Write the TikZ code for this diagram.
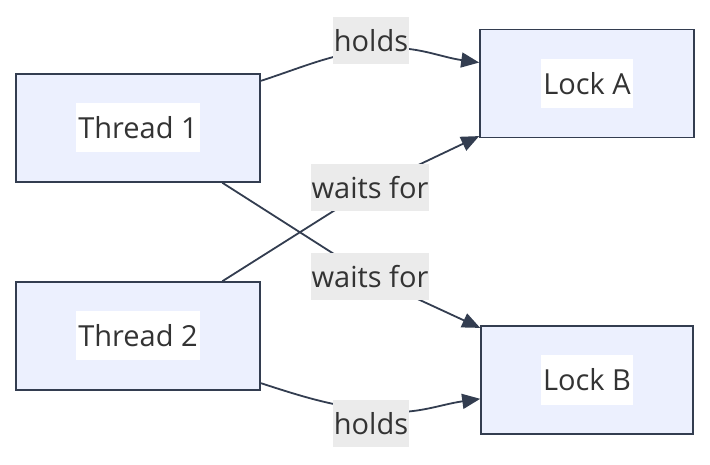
\documentclass[tikz,border=0pt]{standalone}
\usepackage{fontspec}
\setmainfont{Open Sans}
\usetikzlibrary{calc, arrows.meta, backgrounds}

\definecolor{edgecol}{RGB}{51,61,80}
\definecolor{boxfill}{RGB}{236,240,254}
\definecolor{labelfill}{RGB}{235,235,235}
\definecolor{textcol}{RGB}{51,51,51}

\begin{document}
\begin{tikzpicture}[x=1pt, y=1pt,
    box/.style={draw=edgecol, line width=1.6pt, fill=boxfill, minimum width=#1, minimum height=108pt, inner sep=0pt},
    txt/.style={fill=white, text=textcol, inner xsep=2pt, inner ysep=0pt, minimum height=49pt, font=\fontsize{29}{35}\selectfont},
    lbl/.style={fill=labelfill, text=textcol, inner xsep=1pt, inner ysep=0pt, minimum height=47pt, font=\fontsize{29}{35}\selectfont},
    arr/.style={draw=edgecol, line width=1.8pt, -{Triangle[length=18pt, width=15pt]}}]
        \useasboundingbox (0,0) rectangle (710,464);

        \node[box=244pt] (t1) at (138,336) {};
        \node[box=244pt] (t2) at (138,128) {};
        \node[box=214pt] (la) at (587,380.5) {};
        \node[box=212pt] (lb) at (587,84) {};

        \node[txt] (t1txt) at (t1) {Thread 1};
        \node[txt] (t2txt) at (t2) {Thread 2};
        \node[txt] (latxt) at (la) {Lock A};
        \node[txt] (lbtxt) at (lb) {Lock B};

        \node[lbl] (h1) at (371,423.5) {holds};
        \node[lbl] (w1) at (370,276) {waits for};
        \node[lbl] (w2) at (370,187) {waits for};
        \node[lbl] (h2) at (371,40.5) {holds};

        \coordinate (h1p) at ($(h1.center)+(0,-9)$);
        \coordinate (h2p) at ($(h2.center)+(0,13)$);

        \begin{pgfonlayer}{background}
            \draw[arr] (t1.21) to[out=18, in=188] (h1p) to[out=8, in=172] (la.169);
            \draw[arr] (t1.-33) -- (w2.center) -- (lb.154);
            \draw[arr] (t2.33) -- (w1.center) -- (la.206);
            \draw[arr] (t2.-21) to[out=-18, in=172] (h2p) to[out=-8, in=188] (lb.190);
        \end{pgfonlayer}
\end{tikzpicture}
\end{document}
